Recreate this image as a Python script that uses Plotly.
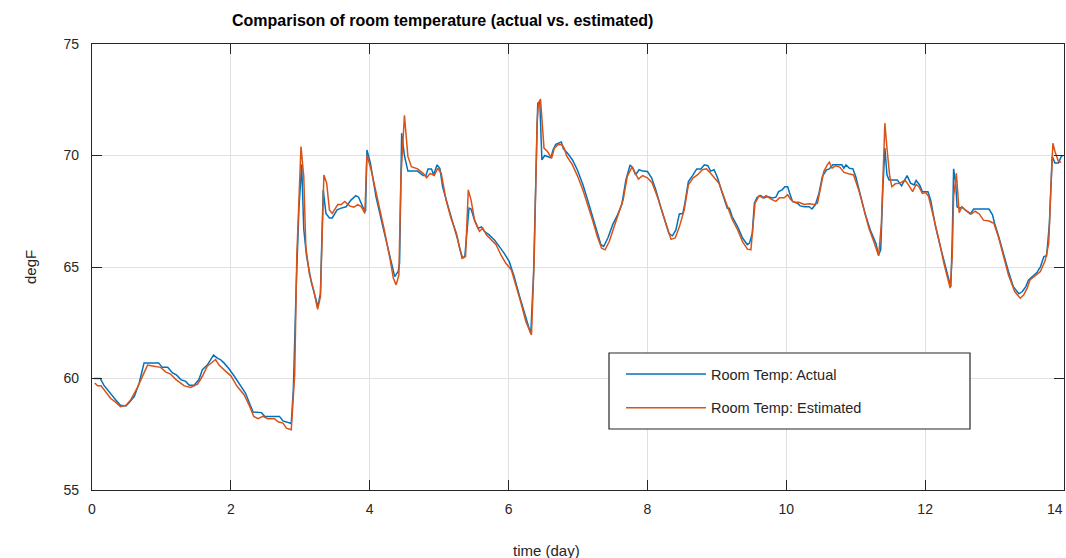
import plotly.graph_objects as go

# ---- data (time in days, temperature in degF) ----
t_actual = [0.03, 0.12, 0.17, 0.27, 0.34, 0.41, 0.49, 0.53, 0.61, 0.68, 0.75, 0.85, 0.96, 1.01, 1.09,
            1.16, 1.22, 1.28, 1.35, 1.40, 1.47, 1.54, 1.59, 1.66, 1.75, 1.81, 1.85, 1.90, 1.97, 2.05,
            2.14, 2.21, 2.27, 2.32, 2.44, 2.49, 2.70, 2.75, 2.87, 2.90, 2.94, 2.98, 3.02, 3.05, 3.09,
            3.16, 3.23, 3.25, 3.29, 3.33, 3.37, 3.42, 3.46, 3.53, 3.59, 3.66, 3.73, 3.80, 3.84, 3.90,
            3.94, 3.96, 4.01, 4.09, 4.19, 4.29, 4.36, 4.41, 4.43, 4.46, 4.50, 4.55,
            4.57, 4.69, 4.77, 4.81, 4.84, 4.89, 4.92, 4.97, 5.01, 5.05, 5.13, 5.20, 5.27, 5.33, 5.37,
            5.43, 5.46, 5.51, 5.56, 5.61, 5.65, 5.72, 5.80, 5.87, 5.94, 6.01, 6.08, 6.16, 6.23, 6.28,
            6.32, 6.36, 6.40, 6.42, 6.45, 6.48, 6.52, 6.56, 6.61, 6.64, 6.68, 6.76, 6.79, 6.85,
            6.92, 6.99, 7.07, 7.14, 7.21, 7.28, 7.33, 7.37, 7.43, 7.50, 7.57, 7.63, 7.69, 7.75, 7.79,
            7.83, 7.88, 7.93, 8.00, 8.06, 8.12, 8.19, 8.26, 8.31, 8.36, 8.41, 8.46, 8.51, 8.54, 8.59,
            8.65, 8.71, 8.77, 8.82, 8.87, 8.91, 8.96, 9.01, 9.08, 9.15,
            9.18, 9.22, 9.30, 9.37, 9.44, 9.47, 9.51, 9.54, 9.58, 9.63, 9.68, 9.73, 9.80, 9.85, 9.89,
            9.94, 9.98, 10.02, 10.05, 10.09, 10.16, 10.20, 10.26, 10.33, 10.37, 10.42, 10.47, 10.52,
            10.58, 10.62, 10.67, 10.73, 10.80, 10.83, 10.86, 10.91, 10.96, 11.00, 11.07, 11.14, 11.21,
            11.29, 11.33, 11.36, 11.39, 11.42, 11.45,
            11.48, 11.52, 11.60, 11.66, 11.69, 11.74, 11.79, 11.84, 11.87, 11.92, 11.96, 12.00, 12.04,
            12.08, 12.15, 12.22, 12.29, 12.35, 12.37, 12.39, 12.41, 12.44, 12.46, 12.49, 12.53, 12.59,
            12.65, 12.70, 12.77, 12.84, 12.92, 12.97, 13.00, 13.06, 13.13, 13.20, 13.27, 13.35, 13.40,
            13.45, 13.49, 13.55, 13.61, 13.66, 13.71, 13.75, 13.79, 13.83, 13.87, 13.92, 13.96, 13.98]
temp_actual = [60.0, 60.0, 59.7, 59.3, 59.05, 58.8, 58.77, 58.9, 59.2, 59.8, 60.7, 60.7, 60.7, 60.5, 60.5,
               60.25, 60.15, 59.95, 59.87, 59.7, 59.7, 59.95, 60.4, 60.6, 61.05, 60.9, 60.85, 60.7, 60.45, 60.1,
               59.7, 59.35, 58.88, 58.5, 58.47, 58.3, 58.3, 58.1, 57.98, 59.5, 64.0, 67.6, 69.6, 66.7, 65.5,
               64.3, 63.5, 63.2, 63.8, 68.46, 67.4, 67.2, 67.2, 67.56, 67.64, 67.7, 68.0, 68.2, 68.13, 67.7,
               67.5, 70.25, 69.66, 68.16, 66.8, 65.47, 64.57, 64.8, 65.17, 71.0, 70.0, 69.3,
               69.3, 69.3, 69.1, 69.1, 69.4, 69.4, 69.13, 69.58, 69.43, 68.6, 67.7, 66.96, 66.2, 65.4, 65.47,
               67.64, 67.6, 67.1, 66.74, 66.8, 66.6, 66.44, 66.2, 65.9, 65.6, 65.24, 64.57, 63.67, 62.9, 62.47,
               62.0, 64.7, 69.95, 72.35, 72.4, 69.8, 70.0, 69.96, 69.9, 70.25, 70.5, 70.6, 70.3, 70.1,
               69.8, 69.36, 68.7, 68.0, 67.26, 66.5, 66.0, 65.92, 66.3, 66.9, 67.34, 67.8, 68.9, 69.58, 69.43,
               69.13, 69.36, 69.3, 69.28, 69.0, 68.46, 67.7, 67.04, 66.5, 66.4, 66.66, 67.38, 67.4, 67.86, 68.83,
               69.1, 69.4, 69.4, 69.58, 69.54, 69.3, 69.36, 69.0, 68.3, 67.64,
               67.64, 67.26, 66.8, 66.3, 66.0, 66.07, 66.5, 67.86, 68.13, 68.2, 68.1, 68.16, 68.1, 68.13, 68.38,
               68.46, 68.6, 68.6, 68.3, 67.94, 67.86, 67.74, 67.7, 67.7, 67.6, 67.8, 68.3, 69.06,
               69.36, 69.4, 69.58, 69.58, 69.58, 69.43, 69.58, 69.43, 69.4, 69.06, 68.16, 67.34, 66.66,
               66.07, 65.54, 65.77, 68.46, 70.33, 69.13,
               68.9, 68.9, 68.9, 68.64, 68.83, 69.1, 68.76, 68.68, 68.88, 68.68, 68.38, 68.38, 68.38,
               68.0, 66.8, 65.9, 65.0, 64.27, 64.1, 66.2, 69.4, 68.76, 67.7, 67.64, 67.68, 67.53,
               67.38, 67.6, 67.6, 67.6, 67.6, 67.34, 66.96, 66.36, 65.54, 64.8, 64.12, 63.8, 63.9,
               64.12, 64.42, 64.57, 64.75, 65.0, 65.47, 65.5, 66.96, 69.96, 69.66, 69.66, 69.96, 70.0]

t_est = [0.04, 0.08, 0.13, 0.20, 0.27, 0.34, 0.41, 0.49, 0.56, 0.65, 0.73, 0.80, 0.89, 0.99, 1.06,
         1.13, 1.21, 1.28, 1.33, 1.42, 1.52, 1.59, 1.66, 1.78, 1.83, 1.90, 2.00, 2.09, 2.19, 2.27,
         2.33, 2.39, 2.46, 2.53, 2.63, 2.68, 2.75, 2.80, 2.87, 2.92, 2.95, 3.01, 3.05, 3.08, 3.13,
         3.19, 3.25, 3.29, 3.34, 3.38, 3.42, 3.46, 3.54, 3.59, 3.64, 3.71, 3.77, 3.83, 3.88, 3.93,
         3.96, 4.02, 4.12, 4.21, 4.29, 4.34, 4.38, 4.42, 4.45, 4.50, 4.55,
         4.60, 4.69, 4.77, 4.82, 4.87, 4.93, 4.98, 5.03, 5.10, 5.17, 5.25, 5.29, 5.34, 5.38, 5.42,
         5.46, 5.51, 5.58, 5.63, 5.68, 5.75, 5.82, 5.89, 5.96, 6.04, 6.10, 6.18, 6.25, 6.33, 6.37,
         6.41, 6.43, 6.46, 6.51, 6.56, 6.62, 6.66, 6.71, 6.77, 6.80, 6.84,
         6.92, 6.99, 7.07, 7.14, 7.21, 7.28, 7.34, 7.39, 7.45, 7.52, 7.59, 7.65, 7.71, 7.78, 7.82,
         7.87, 7.93, 8.00, 8.07, 8.15, 8.22, 8.29, 8.34, 8.40, 8.46, 8.53, 8.59, 8.66, 8.72, 8.79,
         8.85, 8.91, 8.97, 9.03, 9.10,
         9.18, 9.22, 9.30, 9.37, 9.44, 9.49, 9.52, 9.55, 9.61, 9.66, 9.71, 9.78, 9.85, 9.90, 9.97,
         10.02, 10.06, 10.11, 10.18, 10.26, 10.33, 10.40, 10.45, 10.49, 10.54, 10.59, 10.62, 10.66,
         10.71, 10.77, 10.83, 10.90, 10.97, 11.05, 11.12, 11.19, 11.26, 11.33, 11.37, 11.42, 11.45,
         11.49, 11.52, 11.57, 11.64, 11.71, 11.76, 11.82, 11.87, 11.91, 11.96, 12.01, 12.05, 12.12,
         12.20, 12.27, 12.33, 12.36, 12.39, 12.41, 12.45, 12.47, 12.49, 12.53, 12.60, 12.67, 12.72,
         12.78, 12.84, 12.92, 12.99, 13.06, 13.13, 13.20, 13.29, 13.37, 13.42, 13.47, 13.51, 13.59,
         13.66, 13.73, 13.78, 13.81, 13.84, 13.87, 13.92, 13.96]
temp_est = [59.8, 59.67, 59.67, 59.4, 59.1, 58.94, 58.74, 58.8, 59.05, 59.57, 60.15, 60.6, 60.55, 60.5, 60.3,
            60.2, 59.95, 59.8, 59.67, 59.6, 59.75, 60.1, 60.55, 60.85, 60.6, 60.4, 60.12, 59.65, 59.27, 58.76,
            58.3, 58.2, 58.3, 58.2, 58.2, 58.06, 58.0, 57.77, 57.7, 60.2, 65.5, 70.4, 69.06, 65.9, 64.7,
            64.0, 63.1, 63.67, 69.13, 68.76, 67.56, 67.4, 67.8, 67.8, 67.94, 67.74, 67.68, 67.8, 67.7, 67.4,
            70.03, 69.36, 68.0, 66.66, 65.4, 64.5, 64.2, 64.64, 69.06, 71.8, 69.96,
            69.5, 69.4, 69.2, 69.0, 69.2, 69.1, 69.43, 69.2, 68.0, 67.2, 66.5, 65.9, 65.4, 65.47, 68.46,
            68.0, 67.1, 66.6, 66.74, 66.44, 66.2, 66.0, 65.54, 65.17, 64.87, 64.27, 63.37, 62.55, 61.95, 65.47,
            71.45, 72.35, 72.53, 70.33, 70.18, 69.88, 70.33, 70.48, 70.48, 70.33, 69.96,
            69.58, 69.1, 68.46, 67.8, 67.1, 66.36, 65.84, 65.77, 66.14, 66.8, 67.4, 68.0, 69.06, 69.5, 69.24,
            68.94, 69.1, 69.0, 68.76, 68.1, 67.4, 66.66, 66.24, 66.3, 66.8, 67.56, 68.68, 69.0, 69.13, 69.36,
            69.4, 69.2, 69.0, 68.76, 68.16,
            67.5, 67.14, 66.66, 66.14, 65.8, 65.77, 66.8, 67.86, 68.2, 68.1, 68.2, 68.04, 67.94, 68.1, 68.1,
            68.24, 68.04, 67.9, 67.9, 67.8, 67.84, 67.8, 67.86, 68.53, 69.28, 69.58, 69.7, 69.43,
            69.54, 69.48, 69.24, 69.18, 69.13, 68.38, 67.5, 66.74, 66.14, 65.5, 66.96, 71.45, 70.33,
            69.06, 68.6, 68.73, 68.76, 68.9, 68.68, 68.38, 68.7, 68.6, 68.3, 68.34, 68.16, 67.26,
            66.2, 65.17, 64.42, 64.05, 65.47, 68.16, 69.2, 68.16, 67.44, 67.7, 67.5, 67.38, 67.5,
            67.38, 67.1, 67.06, 66.96, 66.3, 65.47, 64.64, 63.9, 63.6, 63.75, 64.05, 64.42, 64.64,
            64.8, 65.3, 66.07, 68.46, 70.55, 70.18, 69.73, 69.7]

x_ticks = [0, 2, 4, 6, 8, 10, 12, 14]
x_ticklabels = ["0", "2", "4", "6", "8", "10", "12", "14"]
y_ticks = [55, 60, 65, 70, 75]
y_ticklabels = ["55", "60", "65", "70", "75"]

FONT = "Liberation Sans, Arial, Helvetica, sans-serif"
AX = "#262626"
W, H = 1066, 558
PL, PR, PT, PB = 92, 1064, 44, 490          # plot area in window pixels
pw, ph = PR - PL, PB - PT

def px(x):  # window x pixel -> paper x
    return (x - PL) / pw

def py(y):  # window y pixel -> paper y
    return (PB - y) / ph

fig = go.Figure()
fig.add_trace(go.Scatter(x=t_actual, y=temp_actual, mode="lines", name="Room Temp: Actual",
                         line=dict(color="#0072BD", width=1.5), legendgroup="a"))
fig.add_trace(go.Scatter(x=t_est, y=temp_est, mode="lines", name="Room Temp: Estimated",
                         line=dict(color="#D95319", width=1.5), legendgroup="b"))

axis_common = dict(showline=True, linecolor=AX, linewidth=1.2, mirror="ticks", ticks="inside",
                   ticklen=10, tickwidth=1.2, tickcolor=AX, showgrid=True, gridcolor="#e0e0e0",
                   gridwidth=1, zeroline=False, tickfont=dict(family=FONT, size=14, color=AX))
# the last x label sits at the window's right edge; it is drawn as an annotation nudged inward
fig.update_xaxes(range=[0, 14], tickvals=x_ticks, ticktext=x_ticklabels[:-1] + [""],
                 ticklabelstandoff=6, **axis_common)
fig.update_yaxes(range=[55, 75], tickvals=y_ticks, ticktext=y_ticklabels,
                 ticklabelstandoff=9, **axis_common)

# legend box
lx0, lx1, ly0, ly1 = 609, 970, 353, 429
fig.add_shape(type="rect", xref="paper", yref="paper", x0=px(lx0), x1=px(lx1), y0=py(ly1), y1=py(ly0),
              fillcolor="white", line=dict(color=AX, width=1.2), layer="above")

fig.update_layout(
    width=W, height=H,
    margin=dict(l=PL, r=W - PR, t=PT, b=H - PB, autoexpand=False),
    plot_bgcolor="white", paper_bgcolor="white",
    font=dict(family=FONT, color=AX),
    showlegend=True,
    legend=dict(x=px(621), y=py(358), xanchor="left", yanchor="top", bgcolor="rgba(0,0,0,0)",
                borderwidth=0, font=dict(family=FONT, size=14.5, color=AX), itemwidth=80,
                traceorder="grouped", tracegroupgap=12),
    annotations=[
        dict(text="<b>Comparison of room temperature (actual vs. estimated)</b>", x=px(442), y=py(20),
             xref="paper", yref="paper", showarrow=False, xanchor="center", yanchor="middle",
             font=dict(family=FONT, size=16, color="black")),
        dict(text="time (day)", x=px(546), y=py(550), xref="paper", yref="paper", showarrow=False,
             xanchor="center", yanchor="middle", font=dict(family=FONT, size=15, color=AX)),
        dict(text="degF", x=px(30), y=py(267), xref="paper", yref="paper", showarrow=False,
             textangle=-90, xanchor="center", yanchor="middle", font=dict(family=FONT, size=15, color=AX)),
        dict(text=x_ticklabels[-1], x=px(1065), y=py(509), xref="paper", yref="paper", showarrow=False,
             xanchor="right", yanchor="middle", font=dict(family=FONT, size=14, color=AX)),
    ],
)

# remove the default page margin so the 1066x558 figure fills the window exactly
fig.write_html("out.html", config={"displayModeBar": False},
               post_script="document.body.style.margin='0';document.body.style.overflow='hidden';")
